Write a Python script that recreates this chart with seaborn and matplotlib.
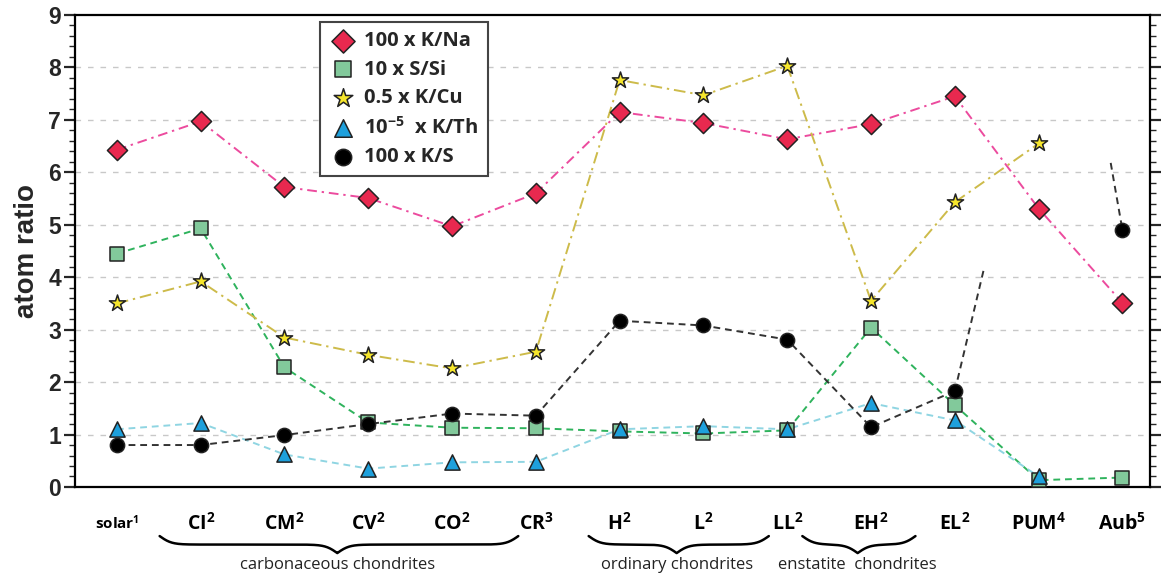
import numpy as np
import pandas as pd
import seaborn as sns
import matplotlib.pyplot as plt
from matplotlib.transforms import blended_transform_factory

# === Data ===

categories = ["solar$^1$", "CI$^2$", "CM$^2$", "CV$^2$", "CO$^2$", "CR$^3$",
              "H$^2$", "L$^2$", "LL$^2$", "EH$^2$", "EL$^2$", "PUM$^4$", "Aub$^5$"]

k_na = [6.43, 6.97, 5.72, 5.51, 4.97, 5.60, 7.15, 6.94, 6.63, 6.92, 7.45, 5.31, 3.51]
s_si = [4.45, 4.93, 2.28, 1.23, 1.13, 1.12, 1.06, 1.02, 1.08, 3.04, 1.56, 0.13, 0.18]
k_cu = [3.50, 3.92, 2.85, 2.52, 2.26, 2.58, 7.76, 7.47, 8.03, 3.55, 5.43, 6.55, np.nan]
k_th = [1.10, 1.22, 0.62, 0.35, 0.47, 0.48, 1.10, 1.16, 1.10, 1.60, 1.27, 0.20, np.nan]
k_s = [0.80, 0.80, 0.99, 1.20, 1.40, 1.36, 3.17, 3.08, 2.81, 1.14, 1.83, np.nan, 4.90]

# loose ends of the K/S line around the missing PUM value
k_s_stub1_x = [10, 10.35]
k_s_stub1_y = [1.83, 4.18]
k_s_stub2_x = [11.86, 12]
k_s_stub2_y = [6.18, 4.90]

groups = ["carbonaceous chondrites", "ordinary chondrites", "enstatite  chondrites"]
group_span = [(0.51, 4.79, 2.63), (5.63, 7.78, 6.68), (8.18, 9.53, 8.84)]

# (label, values, marker, size, face, line colour, dash pattern)
series = [
    ("100 x K/Na", k_na, "D", 105, "#e8294f", "#ec4b9e", (0, (5, 2.5, 1.2, 2.5))),
    ("10 x S/Si", s_si, "s", 90, "#82c99b", "#2fb35d", (0, (3.5, 2.5))),
    ("0.5 x K/Cu", k_cu, "*", 150, "#f6e62c", "#cdbb4a", (0, (6, 2.5, 1.2, 2.5))),
    ("10$^{-5}$  x K/Th", k_th, "^", 120, "#1ea0dc", "#8fd5e2", (0, (3.5, 2.5))),
    ("100 x K/S", k_s, "o", 105, "black", "#333333", (0, (3.5, 2.5))),
]

# === Plot ===

sns.set_style("white")
plt.rcParams["font.family"] = ["Open Sans", "DejaVu Sans"]
plt.rcParams["mathtext.fontset"] = "custom"
plt.rcParams["mathtext.rm"] = "Open Sans:bold"
plt.rcParams["mathtext.it"] = "Open Sans:bold"
plt.rcParams["mathtext.bf"] = "Open Sans:bold"

fig = plt.figure(figsize=(11.61, 5.77), dpi=100)
ax = fig.add_axes([0.0646, 0.156, 0.926, 0.818])

xpos = np.arange(len(categories))

for label, vals, marker, size, face, lcol, dash in series:
    df = pd.DataFrame({"x": xpos, "y": vals})
    df["seg"] = df["y"].isna().cumsum()
    df = df.dropna()
    sns.lineplot(data=df, x="x", y="y", units="seg", estimator=None, color=lcol,
                 linestyle=dash, linewidth=1.4, ax=ax, zorder=2, legend=False)

for sx, sy in [(k_s_stub1_x, k_s_stub1_y), (k_s_stub2_x, k_s_stub2_y)]:
    sns.lineplot(x=sx, y=sy, color="#333333", linestyle=(0, (3.5, 2.5)),
                 linewidth=1.4, ax=ax, zorder=2, legend=False)

for label, vals, marker, size, face, lcol, dash in series:
    sns.scatterplot(x=xpos, y=vals, marker=marker, s=size, color=face,
                    edgecolor="#222222", linewidth=1.1, ax=ax, zorder=4, label=label)

# grid
for yv in range(1, 9):
    ax.axhline(yv, color="#c8c8c8", lw=1.0, linestyle=(0, (4, 5)), zorder=1)

ax.set_xlim(-0.5, 12.33)
ax.set_ylim(0, 9)
ax.set_yticks(range(0, 10))
ax.set_yticks(np.arange(0, 9.01, 0.2), minor=True)
ax.set_xticks(xpos)
ax.set_xticklabels(categories)
for i, t in enumerate(ax.get_xticklabels()):
    t.set_fontweight("bold")
    t.set_fontsize(11 if i == 0 else 14)
for t in ax.get_yticklabels():
    t.set_fontfamily("Liberation Sans")
    t.set_fontweight("bold")
    t.set_fontsize(16.5)

ax.tick_params(axis="x", direction="out", length=7, width=1.6, pad=12, colors="black")
ax.tick_params(axis="y", which="major", direction="out", length=8, width=1.6,
               pad=2, left=True, right=True)
ax.tick_params(axis="y", which="minor", direction="out", length=4, width=1.0,
               left=True, right=True)
for sp in ax.spines.values():
    sp.set_linewidth(1.6)
    sp.set_color("black")
    sp.set_visible(True)

ax.set_xlabel("")
ax.set_ylabel("atom ratio", fontsize=20, fontweight="bold",
              fontfamily="Liberation Sans", labelpad=6)

# braces under the groups
trans = blended_transform_factory(ax.transData, ax.transAxes)


def brace(x0, x1, xtip, ytop, h):
    beta = 14.0
    xl = np.linspace(x0, xtip, 200)
    yl = 1 / (1 + np.exp(-beta * (xl - x0))) + 1 / (1 + np.exp(-beta * (xl - xtip)))
    xr = np.linspace(xtip, x1, 200)
    yr = 1 / (1 + np.exp(beta * (xr - x1))) + 1 / (1 + np.exp(beta * (xr - xtip)))
    xx = np.concatenate([xl, xr])
    yy = np.concatenate([yl, yr])
    ax.plot(xx, ytop - (yy - 0.5) * h, color="black", lw=1.8,
            transform=trans, clip_on=False)


for name, (x0, x1, xt) in zip(groups, group_span):
    brace(x0, x1, xt, -0.104, 0.036)
    ax.text(xt, -0.165, name, transform=trans, ha="center", va="center",
            fontsize=12, color="#222222")

leg = ax.legend(loc="upper left", bbox_to_anchor=(0.228, 0.985), frameon=True,
                fancybox=False, framealpha=1, edgecolor="#444444",
                prop={"family": "Open Sans", "weight": "bold", "size": 14.5},
                handletextpad=0.35, labelspacing=0.42, borderpad=0.45,
                handlelength=1.4, borderaxespad=0, markerscale=1.15)
leg.get_frame().set_linewidth(1.5)
leg.set_zorder(6)

plt.savefig("out.png", dpi=100)
